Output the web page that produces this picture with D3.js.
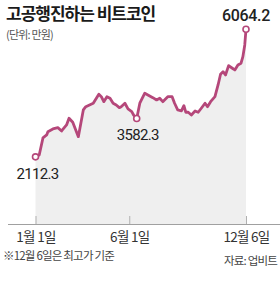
<!DOCTYPE html>
<html><head><meta charset="utf-8">
<script src="https://cdn.jsdelivr.net/npm/d3@7"></script>
<style>
html,body{margin:0;padding:0;background:#fff;}
svg{display:block;font-family:"Noto Sans CJK KR","Noto Sans",sans-serif;}
</style></head>
<body><svg id="c" width="280" height="300"></svg>
<script>
const title = "고공행진하는 비트코인";
const unitText = "(단위: 만원)";
const noteText = "※12월 6일은 최고가 기준";
const sourceText = "자료: 업비트";

const dates = ["2023-01-01","2023-01-07","2023-01-13","2023-01-19","2023-01-21","2023-01-29","2023-02-06","2023-02-12","2023-02-20","2023-02-24",
"2023-03-02","2023-03-11","2023-03-19","2023-03-23","2023-03-29","2023-04-04","2023-04-13","2023-04-17","2023-04-21","2023-04-26",
"2023-05-01","2023-05-06","2023-05-11","2023-05-16","2023-05-19","2023-05-25","2023-05-30","2023-06-05","2023-06-08","2023-06-13",
"2023-06-18","2023-06-26","2023-07-01","2023-07-09","2023-07-15","2023-07-20","2023-07-25","2023-08-02","2023-08-09","2023-08-13",
"2023-08-18","2023-08-24","2023-08-28","2023-08-31","2023-09-04","2023-09-09","2023-09-15","2023-09-20","2023-09-25","2023-10-01",
"2023-10-05","2023-10-10","2023-10-17","2023-10-22","2023-10-26","2023-10-30","2023-11-03","2023-11-08","2023-11-14","2023-11-18",
"2023-11-23","2023-11-28","2023-12-01","2023-12-04","2023-12-06"];
const values = [2112.3,2170,2697,2790,2892,2976,3016,2914,3100,3308,
3184,2737,3565,3667,3720,3773,4052,3977,3822,3977,
3928,3773,3720,3636,3667,3773,3596,3512,3410,3302,
3773,4083,4030,3946,3875,3928,3822,3977,3977,3773,
3565,3534,3698,3494,3494,3410,3534,3494,3618,3773,
3667,3822,3977,4340,4672,4752,4650,4938,4858,4805,
4960,5013,5217,5580,6064.2];

const tickDates = ["2023-01-01","2023-06-01","2023-12-06"];
const tickLabels = ["1월 1일","6월 1일","12월 6일"];

const markIndex = [0, 29, 64];
const markLabels = ["2112.3","3582.3","6064.2"];

const parse = d3.timeParse("%Y-%m-%d");
const data = dates.map((d,i)=>({date:parse(d), value:values[i]}));

const svg = d3.select("#c");
const lineColor = "#b5477a";

const x = d3.scaleTime().domain([parse("2023-01-01"), parse("2023-12-06")]).range([35.5, 246]);
const y = d3.scaleLinear().domain([0, 6064.2]).range([225, 29.3]);
const baseY = 224;

// area
svg.append("path").datum(data)
  .attr("fill","#efefef")
  .attr("d", d3.area().x(d=>x(d.date)).y0(baseY).y1(d=>y(d.value)));

// axis
const axis = d3.axisBottom(x)
  .tickValues(tickDates.map(parse))
  .tickFormat((d,i)=>tickLabels[i])
  .tickSizeInner(-8).tickSizeOuter(0).tickPadding(8);
const ag = svg.append("g").attr("transform",`translate(0,${baseY})`).call(axis);
ag.select(".domain").remove();
ag.selectAll(".tick line").attr("stroke","#b0b0b0");
ag.selectAll(".tick text").attr("fill","#333").attr("font-size","13.5px")
  .attr("letter-spacing","-0.7").attr("font-family","'Noto Sans CJK KR',sans-serif");
svg.append("line").attr("x1",8).attr("x2",280).attr("y1",baseY+0.5).attr("y2",baseY+0.5)
  .attr("stroke","#a0a0a0").attr("stroke-width",1);

// line
svg.append("path").datum(data)
  .attr("fill","none").attr("stroke",lineColor).attr("stroke-width",2.8)
  .attr("stroke-linejoin","round").attr("stroke-linecap","round")
  .attr("d", d3.line().x(d=>x(d.date)).y(d=>y(d.value)));

// markers
svg.selectAll("circle.m").data(markIndex).join("circle")
  .attr("cx",i=>x(data[i].date)).attr("cy",i=>y(data[i].value)).attr("r",3)
  .attr("fill","#fff").attr("stroke",lineColor).attr("stroke-width",1.6);

const labelDy = [22, 21.5, -8];
const labelDx = [2, 1, 0];
svg.selectAll("text.ml").data(markIndex).join("text")
  .attr("x",(i,k)=>x(data[i].date)+labelDx[k]).attr("y",(i,k)=>y(data[i].value)+labelDy[k])
  .attr("text-anchor","middle")
  .attr("font-family","Roboto,'Liberation Sans',sans-serif")
  .attr("font-size",(i,k)=>k===2?"16px":"15px")
  .attr("font-weight",(i,k)=>k===2?"500":"400")
  .attr("letter-spacing",(i,k)=>k===2?"-0.3":"-0.7")
  .attr("fill","#222")
  .text((i,k)=>markLabels[k]);

// title & notes
svg.append("text").attr("x",6).attr("y",20).attr("font-size","17px").attr("font-weight","700")
  .attr("letter-spacing","-1").attr("fill","#1a1a1a").text(title);
svg.append("text").attr("x",6).attr("y",39).attr("font-size","11px")
  .attr("letter-spacing","-0.8").attr("fill","#555").text(unitText);
svg.append("text").attr("x",3).attr("y",260).attr("font-size","11.5px")
  .attr("letter-spacing","-0.8").attr("fill","#444").text(noteText);
svg.append("text").attr("x",277).attr("y",265).attr("text-anchor","end").attr("font-size","11.5px")
  .attr("letter-spacing","-0.8").attr("fill","#444").text(sourceText);
</script></body></html>
